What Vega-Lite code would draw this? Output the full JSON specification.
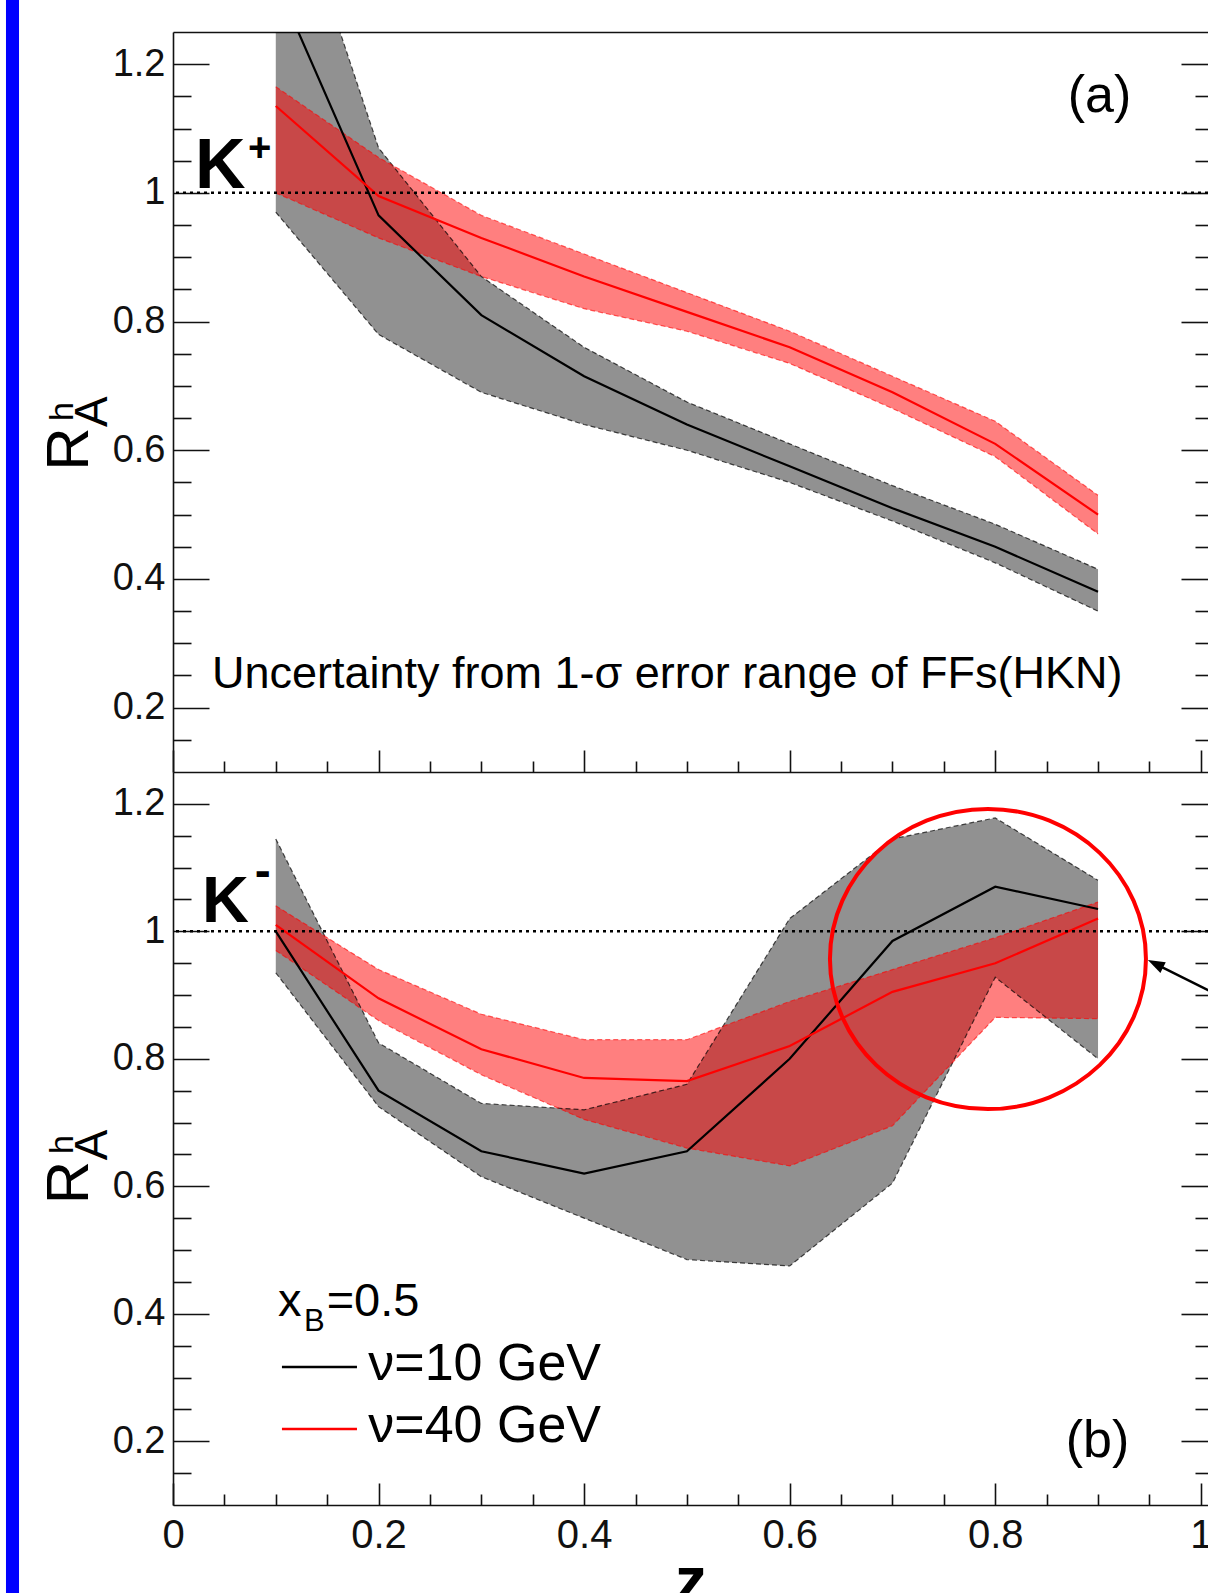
{
"$schema": "https://vega.github.io/schema/vega-lite/v6.json",
"width": 1035, "height": 1473,
"autosize": {"type": "none"},
"padding": {"left": 173, "top": 32, "right": 0, "bottom": 88},
"background": "#ffffff",
"config": {"view": {"stroke": null}, "font": "Liberation Sans",
  "axis": {"domainColor": "#111111", "tickColor": "#111111", "domainWidth": 1.6, "tickWidth": 1.6, "labelColor": "#111111", "labelFont": "Liberation Sans", "titleFont": "Liberation Sans", "titleColor": "#000000", "grid": false, "zindex": 1, "labelFlush": false, "labelOverlap": false}},
"datasets": {
 "kplus": [
  {"z":0.1,"nu":10,"r":1.33,"lo":0.97,"hi":1.55},{"z":0.2,"nu":10,"r":0.965,"lo":0.78,"hi":1.07},{"z":0.3,"nu":10,"r":0.81,"lo":0.69,"hi":0.87},{"z":0.4,"nu":10,"r":0.715,"lo":0.64,"hi":0.76},{"z":0.5,"nu":10,"r":0.64,"lo":0.6,"hi":0.675},{"z":0.6,"nu":10,"r":0.575,"lo":0.55,"hi":0.61},{"z":0.7,"nu":10,"r":0.51,"lo":0.49,"hi":0.545},{"z":0.8,"nu":10,"r":0.45,"lo":0.425,"hi":0.485},{"z":0.9,"nu":10,"r":0.38,"lo":0.35,"hi":0.415},
  {"z":0.1,"nu":40,"r":1.135,"lo":1.0,"hi":1.165},{"z":0.2,"nu":40,"r":0.995,"lo":0.93,"hi":1.055},{"z":0.3,"nu":40,"r":0.93,"lo":0.87,"hi":0.965},{"z":0.4,"nu":40,"r":0.87,"lo":0.82,"hi":0.905},{"z":0.5,"nu":40,"r":0.815,"lo":0.785,"hi":0.845},{"z":0.6,"nu":40,"r":0.76,"lo":0.735,"hi":0.785},{"z":0.7,"nu":40,"r":0.69,"lo":0.665,"hi":0.715},{"z":0.8,"nu":40,"r":0.61,"lo":0.59,"hi":0.645},{"z":0.9,"nu":40,"r":0.5,"lo":0.47,"hi":0.53}
 ],
 "kminus": [
  {"z":0.1,"nu":10,"r":1.0,"lo":0.935,"hi":1.145},{"z":0.2,"nu":10,"r":0.75,"lo":0.725,"hi":0.825},{"z":0.3,"nu":10,"r":0.655,"lo":0.615,"hi":0.73},{"z":0.4,"nu":10,"r":0.62,"lo":0.55,"hi":0.72},{"z":0.5,"nu":10,"r":0.655,"lo":0.485,"hi":0.76},{"z":0.6,"nu":10,"r":0.8,"lo":0.475,"hi":1.02},{"z":0.7,"nu":10,"r":0.985,"lo":0.605,"hi":1.145},{"z":0.8,"nu":10,"r":1.07,"lo":0.928,"hi":1.178},{"z":0.9,"nu":10,"r":1.035,"lo":0.8,"hi":1.08},
  {"z":0.1,"nu":40,"r":1.01,"lo":0.97,"hi":1.04},{"z":0.2,"nu":40,"r":0.895,"lo":0.86,"hi":0.94},{"z":0.3,"nu":40,"r":0.815,"lo":0.775,"hi":0.87},{"z":0.4,"nu":40,"r":0.77,"lo":0.705,"hi":0.83},{"z":0.5,"nu":40,"r":0.765,"lo":0.66,"hi":0.83},{"z":0.6,"nu":40,"r":0.82,"lo":0.632,"hi":0.89},{"z":0.7,"nu":40,"r":0.905,"lo":0.695,"hi":0.94},{"z":0.8,"nu":40,"r":0.95,"lo":0.865,"hi":0.99},{"z":0.9,"nu":40,"r":1.02,"lo":0.863,"hi":1.046}
 ]
},
"resolve": {"scale": {"y": "independent"}, "axis": {"x": "independent", "y": "independent"}},
"layer": [
 {"data": {"name": "kplus"},
  "resolve": {"axis": {"x": "independent", "y": "independent"}},
  "layer": [
   {"transform": [{"filter": "datum.nu == 10"}], "mark": {"type": "area", "fill": "#000000", "fillOpacity": 0.43, "clip": true},
    "encoding": {"x": {"field": "z", "type": "quantitative", "scale": {"domain": [0, 1.007], "nice": false, "zero": false}, "axis": {"orient": "bottom", "offset": -733, "values": [0, 0.2, 0.4, 0.6, 0.8, 1], "tickSize": -22, "labels": false, "domain": true, "title": null}},
     "y": {"field": "hi", "type": "quantitative", "scale": {"domain": [0.1, 1.25], "range": [740, 0], "nice": false, "zero": false}, "axis": {"orient": "left", "values": [0.2, 0.4, 0.6, 0.8, 1, 1.2], "tickSize": -36, "labelPadding": 44, "labelFontSize": 38, "format": "~g", "domain": true, "title": null}},
     "y2": {"field": "lo"}}},
   {"transform": [{"filter": "datum.nu == 40"}], "mark": {"type": "area", "fill": "#ff0000", "fillOpacity": 0.5, "clip": true},
    "encoding": {"x": {"field": "z", "type": "quantitative", "scale": {"domain": [0, 1.007], "nice": false, "zero": false}, "axis": {"orient": "bottom", "offset": -733, "values": [0.05, 0.1, 0.15, 0.25, 0.3, 0.35, 0.45, 0.5, 0.55, 0.65, 0.7, 0.75, 0.85, 0.9, 0.95], "tickSize": -11, "labels": false, "domain": false, "title": null}},
     "y": {"field": "hi", "type": "quantitative", "scale": {"domain": [0.1, 1.25], "range": [740, 0], "nice": false, "zero": false}, "axis": {"orient": "left", "values": [0.15, 0.25, 0.3, 0.35, 0.45, 0.5, 0.55, 0.65, 0.7, 0.75, 0.85, 0.9, 0.95, 1.05, 1.1, 1.15], "tickSize": -18, "labels": false, "domain": false, "title": null}},
     "y2": {"field": "lo"}}},
   {"transform": [{"filter": "datum.nu == 10"}], "mark": {"type": "line", "stroke": "#000000", "strokeWidth": 1.2, "strokeDash": [5, 3], "opacity": 0.7, "clip": true},
    "encoding": {"x": {"field": "z", "type": "quantitative", "scale": {"domain": [0, 1.007], "nice": false, "zero": false}, "axis": null}, "y": {"field": "lo", "type": "quantitative", "scale": {"domain": [0.1, 1.25], "range": [740, 0], "nice": false, "zero": false}, "axis": null}}},
   {"transform": [{"filter": "datum.nu == 10"}], "mark": {"type": "line", "stroke": "#000000", "strokeWidth": 1.2, "strokeDash": [5, 3], "opacity": 0.7, "clip": true},
    "encoding": {"x": {"field": "z", "type": "quantitative", "scale": {"domain": [0, 1.007], "nice": false, "zero": false}, "axis": null}, "y": {"field": "hi", "type": "quantitative", "scale": {"domain": [0.1, 1.25], "range": [740, 0], "nice": false, "zero": false}, "axis": null}}},
   {"transform": [{"filter": "datum.nu == 40"}], "mark": {"type": "line", "stroke": "#ff0000", "strokeWidth": 1.2, "strokeDash": [5, 3], "opacity": 0.6, "clip": true},
    "encoding": {"x": {"field": "z", "type": "quantitative", "scale": {"domain": [0, 1.007], "nice": false, "zero": false}, "axis": null}, "y": {"field": "lo", "type": "quantitative", "scale": {"domain": [0.1, 1.25], "range": [740, 0], "nice": false, "zero": false}, "axis": null}}},
   {"transform": [{"filter": "datum.nu == 40"}], "mark": {"type": "line", "stroke": "#ff0000", "strokeWidth": 1.2, "strokeDash": [5, 3], "opacity": 0.6, "clip": true},
    "encoding": {"x": {"field": "z", "type": "quantitative", "scale": {"domain": [0, 1.007], "nice": false, "zero": false}, "axis": null}, "y": {"field": "hi", "type": "quantitative", "scale": {"domain": [0.1, 1.25], "range": [740, 0], "nice": false, "zero": false}, "axis": null}}},
   {"transform": [{"filter": "datum.nu == 10"}], "mark": {"type": "line", "stroke": "#000000", "strokeWidth": 2.2, "clip": true},
    "encoding": {"x": {"field": "z", "type": "quantitative", "scale": {"domain": [0, 1.007], "nice": false, "zero": false}, "axis": {"orient": "top", "ticks": false, "labels": false, "domain": true, "title": null}},
     "y": {"field": "r", "type": "quantitative", "scale": {"domain": [0.1, 1.25], "range": [740, 0], "nice": false, "zero": false}, "axis": {"orient": "right", "values": [0.2, 0.4, 0.6, 0.8, 1, 1.2], "tickSize": -27, "labels": false, "domain": false, "title": null}}}},
   {"transform": [{"filter": "datum.nu == 40"}], "mark": {"type": "line", "stroke": "#ff0000", "strokeWidth": 2.2, "clip": true},
    "encoding": {"x": {"field": "z", "type": "quantitative", "scale": {"domain": [0, 1.007], "nice": false, "zero": false}, "axis": null},
     "y": {"field": "r", "type": "quantitative", "scale": {"domain": [0.1, 1.25], "range": [740, 0], "nice": false, "zero": false}, "axis": {"orient": "right", "values": [0.15, 0.25, 0.3, 0.35, 0.45, 0.5, 0.55, 0.65, 0.7, 0.75, 0.85, 0.9, 0.95, 1.05, 1.1, 1.15], "tickSize": -13, "labels": false, "domain": false, "title": null}}}},
   {"data": {"values": [{}]}, "mark": {"type": "rule", "stroke": "#000000", "strokeWidth": 2.5, "strokeDash": [3, 4]},
    "encoding": {"y": {"datum": 1, "scale": {"domain": [0.1, 1.25], "range": [740, 0], "nice": false, "zero": false}, "axis": null}}},
   {"data": {"values": [{}]}, "mark": {"type": "text", "text": "K", "font": "Liberation Sans", "fontSize": 70, "fontWeight": "bold", "align": "left", "baseline": "alphabetic", "fill": "#000000"},
    "encoding": {"x": {"datum": 0.0214, "scale": {"domain": [0, 1.007], "nice": false, "zero": false}, "axis": null}, "y": {"datum": 1.0076, "scale": {"domain": [0.1, 1.25], "range": [740, 0], "nice": false, "zero": false}, "axis": null}}},
   {"data": {"values": [{}]}, "mark": {"type": "text", "text": "+", "font": "Liberation Sans", "fontSize": 40, "fontWeight": "bold", "align": "left", "baseline": "alphabetic", "fill": "#000000"},
    "encoding": {"x": {"datum": 0.073, "scale": {"domain": [0, 1.007], "nice": false, "zero": false}, "axis": null}, "y": {"datum": 1.0495, "scale": {"domain": [0.1, 1.25], "range": [740, 0], "nice": false, "zero": false}, "axis": null}}},
   {"data": {"values": [{}]}, "mark": {"type": "text", "text": "(a)", "font": "Liberation Sans", "fontSize": 52, "align": "left", "baseline": "alphabetic", "fill": "#000000"},
    "encoding": {"x": {"datum": 0.8705, "scale": {"domain": [0, 1.007], "nice": false, "zero": false}, "axis": null}, "y": {"datum": 1.1257, "scale": {"domain": [0.1, 1.25], "range": [740, 0], "nice": false, "zero": false}, "axis": null}}},
   {"data": {"values": [{}]}, "mark": {"type": "text", "text": "Uncertainty from 1-σ error range of FFs(HKN)", "font": "Liberation Sans", "fontSize": 45, "align": "left", "baseline": "alphabetic", "fill": "#000000"},
    "encoding": {"x": {"datum": 0.0379, "scale": {"domain": [0, 1.007], "nice": false, "zero": false}, "axis": null}, "y": {"datum": 0.2305, "scale": {"domain": [0.1, 1.25], "range": [740, 0], "nice": false, "zero": false}, "axis": null}}},
   {"data": {"values": [{}]}, "mark": {"type": "text", "text": "R", "font": "Liberation Sans", "fontSize": 60, "angle": 270, "align": "left", "baseline": "alphabetic", "fill": "#000000"},
    "encoding": {"x": {"datum": -0.0825, "scale": {"domain": [0, 1.007], "nice": false, "zero": false}, "axis": null}, "y": {"datum": 0.568, "scale": {"domain": [0.1, 1.25], "range": [740, 0], "nice": false, "zero": false}, "axis": null}}},
   {"data": {"values": [{}]}, "mark": {"type": "text", "text": "h", "font": "Liberation Sans", "fontSize": 34, "angle": 270, "align": "left", "baseline": "alphabetic", "fill": "#000000"},
    "encoding": {"x": {"datum": -0.0973, "scale": {"domain": [0, 1.007], "nice": false, "zero": false}, "axis": null}, "y": {"datum": 0.6455, "scale": {"domain": [0.1, 1.25], "range": [740, 0], "nice": false, "zero": false}, "axis": null}}},
   {"data": {"values": [{}]}, "mark": {"type": "text", "text": "A", "font": "Liberation Sans", "fontSize": 46, "angle": 270, "align": "left", "baseline": "alphabetic", "fill": "#000000"},
    "encoding": {"x": {"datum": -0.0642, "scale": {"domain": [0, 1.007], "nice": false, "zero": false}, "axis": null}, "y": {"datum": 0.636, "scale": {"domain": [0.1, 1.25], "range": [740, 0], "nice": false, "zero": false}, "axis": null}}},
   {"data": {"values": [{}]}, "mark": {"type": "rect", "fill": "#0000ff"},
    "encoding": {"x": {"datum": -0.1625, "scale": {"domain": [0, 1.007], "nice": false, "zero": false}, "axis": null}, "x2": {"datum": -0.1498}, "y": {"datum": 1.31, "scale": {"domain": [0.1, 1.25], "range": [740, 0], "nice": false, "zero": false}, "axis": null}, "y2": {"datum": -1.2}}}
  ]},
 {"data": {"name": "kminus"},
  "resolve": {"axis": {"x": "independent", "y": "independent"}},
  "layer": [
   {"transform": [{"filter": "datum.nu == 10"}], "mark": {"type": "area", "fill": "#000000", "fillOpacity": 0.43, "clip": true},
    "encoding": {"x": {"field": "z", "type": "quantitative", "scale": {"domain": [0, 1.007], "nice": false, "zero": false}, "axis": {"orient": "bottom", "values": [0, 0.2, 0.4, 0.6, 0.8, 1], "tickSize": -22, "labelPadding": 32, "labelFontSize": 40, "format": "~g", "domain": true, "title": "z", "titleFontSize": 64, "titleFontWeight": "bold", "titleY": 96, "titleBaseline": "alphabetic"}},
     "y": {"field": "hi", "type": "quantitative", "scale": {"domain": [0.1, 1.25], "range": [1473, 740], "nice": false, "zero": false}, "axis": {"orient": "left", "values": [0.2, 0.4, 0.6, 0.8, 1, 1.2], "tickSize": -36, "labelPadding": 44, "labelFontSize": 38, "format": "~g", "domain": true, "title": null}},
     "y2": {"field": "lo"}}},
   {"transform": [{"filter": "datum.nu == 40"}], "mark": {"type": "area", "fill": "#ff0000", "fillOpacity": 0.5, "clip": true},
    "encoding": {"x": {"field": "z", "type": "quantitative", "scale": {"domain": [0, 1.007], "nice": false, "zero": false}, "axis": {"orient": "bottom", "values": [0.05, 0.1, 0.15, 0.25, 0.3, 0.35, 0.45, 0.5, 0.55, 0.65, 0.7, 0.75, 0.85, 0.9, 0.95], "tickSize": -11, "labels": false, "domain": false, "title": null}},
     "y": {"field": "hi", "type": "quantitative", "scale": {"domain": [0.1, 1.25], "range": [1473, 740], "nice": false, "zero": false}, "axis": {"orient": "left", "values": [0.15, 0.25, 0.3, 0.35, 0.45, 0.5, 0.55, 0.65, 0.7, 0.75, 0.85, 0.9, 0.95, 1.05, 1.1, 1.15], "tickSize": -18, "labels": false, "domain": false, "title": null}},
     "y2": {"field": "lo"}}},
   {"transform": [{"filter": "datum.nu == 10"}], "mark": {"type": "line", "stroke": "#000000", "strokeWidth": 1.2, "strokeDash": [5, 3], "opacity": 0.7, "clip": true},
    "encoding": {"x": {"field": "z", "type": "quantitative", "scale": {"domain": [0, 1.007], "nice": false, "zero": false}, "axis": null}, "y": {"field": "lo", "type": "quantitative", "scale": {"domain": [0.1, 1.25], "range": [1473, 740], "nice": false, "zero": false}, "axis": null}}},
   {"transform": [{"filter": "datum.nu == 10"}], "mark": {"type": "line", "stroke": "#000000", "strokeWidth": 1.2, "strokeDash": [5, 3], "opacity": 0.7, "clip": true},
    "encoding": {"x": {"field": "z", "type": "quantitative", "scale": {"domain": [0, 1.007], "nice": false, "zero": false}, "axis": null}, "y": {"field": "hi", "type": "quantitative", "scale": {"domain": [0.1, 1.25], "range": [1473, 740], "nice": false, "zero": false}, "axis": null}}},
   {"transform": [{"filter": "datum.nu == 40"}], "mark": {"type": "line", "stroke": "#ff0000", "strokeWidth": 1.2, "strokeDash": [5, 3], "opacity": 0.6, "clip": true},
    "encoding": {"x": {"field": "z", "type": "quantitative", "scale": {"domain": [0, 1.007], "nice": false, "zero": false}, "axis": null}, "y": {"field": "lo", "type": "quantitative", "scale": {"domain": [0.1, 1.25], "range": [1473, 740], "nice": false, "zero": false}, "axis": null}}},
   {"transform": [{"filter": "datum.nu == 40"}], "mark": {"type": "line", "stroke": "#ff0000", "strokeWidth": 1.2, "strokeDash": [5, 3], "opacity": 0.6, "clip": true},
    "encoding": {"x": {"field": "z", "type": "quantitative", "scale": {"domain": [0, 1.007], "nice": false, "zero": false}, "axis": null}, "y": {"field": "hi", "type": "quantitative", "scale": {"domain": [0.1, 1.25], "range": [1473, 740], "nice": false, "zero": false}, "axis": null}}},
   {"transform": [{"filter": "datum.nu == 10"}], "mark": {"type": "line", "stroke": "#000000", "strokeWidth": 2.2, "clip": true},
    "encoding": {"x": {"field": "z", "type": "quantitative", "scale": {"domain": [0, 1.007], "nice": false, "zero": false}, "axis": null},
     "y": {"field": "r", "type": "quantitative", "scale": {"domain": [0.1, 1.25], "range": [1473, 740], "nice": false, "zero": false}, "axis": {"orient": "right", "values": [0.2, 0.4, 0.6, 0.8, 1, 1.2], "tickSize": -27, "labels": false, "domain": false, "title": null}}}},
   {"transform": [{"filter": "datum.nu == 40"}], "mark": {"type": "line", "stroke": "#ff0000", "strokeWidth": 2.2, "clip": true},
    "encoding": {"x": {"field": "z", "type": "quantitative", "scale": {"domain": [0, 1.007], "nice": false, "zero": false}, "axis": null},
     "y": {"field": "r", "type": "quantitative", "scale": {"domain": [0.1, 1.25], "range": [1473, 740], "nice": false, "zero": false}, "axis": {"orient": "right", "values": [0.15, 0.25, 0.3, 0.35, 0.45, 0.5, 0.55, 0.65, 0.7, 0.75, 0.85, 0.9, 0.95, 1.05, 1.1, 1.15], "tickSize": -13, "labels": false, "domain": false, "title": null}}}},
   {"data": {"values": [{}]}, "mark": {"type": "rule", "stroke": "#000000", "strokeWidth": 2.5, "strokeDash": [3, 4]},
    "encoding": {"y": {"datum": 1, "scale": {"domain": [0.1, 1.25], "range": [1473, 740], "nice": false, "zero": false}, "axis": null}}},
   {"data": {"values": [{}]}, "mark": {"type": "text", "text": "K", "font": "Liberation Sans", "fontSize": 65, "fontWeight": "bold", "align": "left", "baseline": "alphabetic", "fill": "#000000"},
    "encoding": {"x": {"datum": 0.0282, "scale": {"domain": [0, 1.007], "nice": false, "zero": false}, "axis": null}, "y": {"datum": 1.0147, "scale": {"domain": [0.1, 1.25], "range": [1473, 740], "nice": false, "zero": false}, "axis": null}}},
   {"data": {"values": [{}]}, "mark": {"type": "text", "text": "-", "font": "Liberation Sans", "fontSize": 48, "fontWeight": "bold", "align": "left", "baseline": "alphabetic", "fill": "#000000"},
    "encoding": {"x": {"datum": 0.0795, "scale": {"domain": [0, 1.007], "nice": false, "zero": false}, "axis": null}, "y": {"datum": 1.07, "scale": {"domain": [0.1, 1.25], "range": [1473, 740], "nice": false, "zero": false}, "axis": null}}},
   {"data": {"values": [{}]}, "mark": {"type": "text", "text": "(b)", "font": "Liberation Sans", "fontSize": 52, "align": "left", "baseline": "alphabetic", "fill": "#000000"},
    "encoding": {"x": {"datum": 0.8685, "scale": {"domain": [0, 1.007], "nice": false, "zero": false}, "axis": null}, "y": {"datum": 0.1753, "scale": {"domain": [0.1, 1.25], "range": [1473, 740], "nice": false, "zero": false}, "axis": null}}},
   {"data": {"values": [{}]}, "mark": {"type": "text", "text": "R", "font": "Liberation Sans", "fontSize": 60, "angle": 270, "align": "left", "baseline": "alphabetic", "fill": "#000000"},
    "encoding": {"x": {"datum": -0.0825, "scale": {"domain": [0, 1.007], "nice": false, "zero": false}, "axis": null}, "y": {"datum": 0.572, "scale": {"domain": [0.1, 1.25], "range": [1473, 740], "nice": false, "zero": false}, "axis": null}}},
   {"data": {"values": [{}]}, "mark": {"type": "text", "text": "h", "font": "Liberation Sans", "fontSize": 34, "angle": 270, "align": "left", "baseline": "alphabetic", "fill": "#000000"},
    "encoding": {"x": {"datum": -0.0973, "scale": {"domain": [0, 1.007], "nice": false, "zero": false}, "axis": null}, "y": {"datum": 0.6507, "scale": {"domain": [0.1, 1.25], "range": [1473, 740], "nice": false, "zero": false}, "axis": null}}},
   {"data": {"values": [{}]}, "mark": {"type": "text", "text": "A", "font": "Liberation Sans", "fontSize": 46, "angle": 270, "align": "left", "baseline": "alphabetic", "fill": "#000000"},
    "encoding": {"x": {"datum": -0.0642, "scale": {"domain": [0, 1.007], "nice": false, "zero": false}, "axis": null}, "y": {"datum": 0.641, "scale": {"domain": [0.1, 1.25], "range": [1473, 740], "nice": false, "zero": false}, "axis": null}}},
   {"data": {"values": [{}]}, "mark": {"type": "text", "text": "x", "font": "Liberation Sans", "fontSize": 47, "align": "left", "baseline": "alphabetic", "fill": "#000000"},
    "encoding": {"x": {"datum": 0.1021, "scale": {"domain": [0, 1.007], "nice": false, "zero": false}, "axis": null}, "y": {"datum": 0.3965, "scale": {"domain": [0.1, 1.25], "range": [1473, 740], "nice": false, "zero": false}, "axis": null}}},
   {"data": {"values": [{}]}, "mark": {"type": "text", "text": "B", "font": "Liberation Sans", "fontSize": 31, "align": "left", "baseline": "alphabetic", "fill": "#000000"},
    "encoding": {"x": {"datum": 0.1275, "scale": {"domain": [0, 1.007], "nice": false, "zero": false}, "axis": null}, "y": {"datum": 0.3735, "scale": {"domain": [0.1, 1.25], "range": [1473, 740], "nice": false, "zero": false}, "axis": null}}},
   {"data": {"values": [{}]}, "mark": {"type": "text", "text": "=0.5", "font": "Liberation Sans", "fontSize": 47, "align": "left", "baseline": "alphabetic", "fill": "#000000"},
    "encoding": {"x": {"datum": 0.1495, "scale": {"domain": [0, 1.007], "nice": false, "zero": false}, "axis": null}, "y": {"datum": 0.3965, "scale": {"domain": [0.1, 1.25], "range": [1473, 740], "nice": false, "zero": false}, "axis": null}}},
   {"data": {"values": [{}]}, "mark": {"type": "rule", "stroke": "#000000", "strokeWidth": 2.5},
    "encoding": {"x": {"datum": 0.106, "scale": {"domain": [0, 1.007], "nice": false, "zero": false}, "axis": null}, "x2": {"datum": 0.179}, "y": {"datum": 0.3165, "scale": {"domain": [0.1, 1.25], "range": [1473, 740], "nice": false, "zero": false}, "axis": null}}},
   {"data": {"values": [{}]}, "mark": {"type": "rule", "stroke": "#ff0000", "strokeWidth": 2.5},
    "encoding": {"x": {"datum": 0.106, "scale": {"domain": [0, 1.007], "nice": false, "zero": false}, "axis": null}, "x2": {"datum": 0.179}, "y": {"datum": 0.2192, "scale": {"domain": [0.1, 1.25], "range": [1473, 740], "nice": false, "zero": false}, "axis": null}}},
   {"data": {"values": [{}]}, "mark": {"type": "text", "text": "ν=10 GeV", "font": "Liberation Sans", "fontSize": 52, "align": "left", "baseline": "alphabetic", "fill": "#000000"},
    "encoding": {"x": {"datum": 0.19, "scale": {"domain": [0, 1.007], "nice": false, "zero": false}, "axis": null}, "y": {"datum": 0.2961, "scale": {"domain": [0.1, 1.25], "range": [1473, 740], "nice": false, "zero": false}, "axis": null}}},
   {"data": {"values": [{}]}, "mark": {"type": "text", "text": "ν=40 GeV", "font": "Liberation Sans", "fontSize": 52, "align": "left", "baseline": "alphabetic", "fill": "#000000"},
    "encoding": {"x": {"datum": 0.19, "scale": {"domain": [0, 1.007], "nice": false, "zero": false}, "axis": null}, "y": {"datum": 0.1988, "scale": {"domain": [0.1, 1.25], "range": [1473, 740], "nice": false, "zero": false}, "axis": null}}},
   {"data": {"values": [{}]}, "mark": {"type": "point", "shape": "M-1,0 A1,0.95 0 1,0 1,0 A1,0.95 0 1,0 -1,0 Z", "size": 99856, "filled": false, "stroke": "#ff0000", "strokeWidth": 4, "opacity": 1},
    "encoding": {"x": {"datum": 0.7929, "scale": {"domain": [0, 1.007], "nice": false, "zero": false}, "axis": null}, "y": {"datum": 0.9566, "scale": {"domain": [0.1, 1.25], "range": [1473, 740], "nice": false, "zero": false}, "axis": null}}},
   {"data": {"values": [{}]}, "mark": {"type": "rule", "stroke": "#000000", "strokeWidth": 2.5, "clip": true},
    "encoding": {"x": {"datum": 0.9553, "scale": {"domain": [0, 1.007], "nice": false, "zero": false}, "axis": null}, "x2": {"datum": 1.1}, "y": {"datum": 0.9494, "scale": {"domain": [0.1, 1.25], "range": [1473, 740], "nice": false, "zero": false}, "axis": null}, "y2": {"datum": 0.8327}}},
   {"data": {"values": [{}]}, "mark": {"type": "point", "shape": "M0,0 L0.35,1 L-0.35,1 Z", "size": 1156, "filled": true, "fill": "#000000", "strokeWidth": 0, "angle": 296.57, "opacity": 1},
    "encoding": {"x": {"datum": 0.9485, "scale": {"domain": [0, 1.007], "nice": false, "zero": false}, "axis": null}, "y": {"datum": 0.955, "scale": {"domain": [0.1, 1.25], "range": [1473, 740], "nice": false, "zero": false}, "axis": null}}}
  ]}
]
}
